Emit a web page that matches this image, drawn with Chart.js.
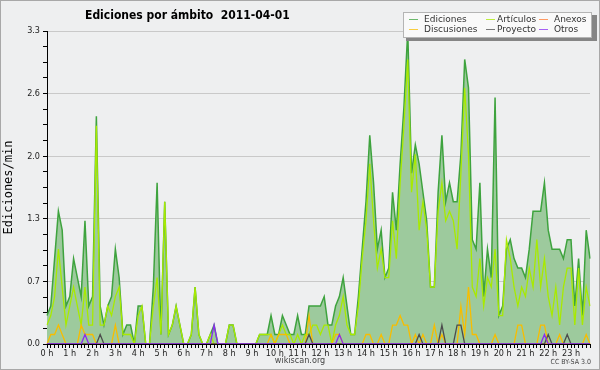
<!DOCTYPE html>
<html>
<head>
<meta charset="utf-8">
<script src="https://cdn.jsdelivr.net/npm/chart.js@4/dist/chart.umd.min.js"></script>
<style>
  html, body { margin: 0; padding: 0; background: #eeeff0; }
  canvas { display: block; }
</style>
</head>
<body>
<canvas id="chart" width="600" height="370"></canvas>
<script>
// hour labels on the x axis, one slot every 10 minutes
const hours = ['0 h', '1 h', '2 h', '3 h', '4 h', '5 h', '6 h', '7 h', '8 h', '9 h', '10 h', '11 h',
    '12 h', '13 h', '14 h', '15 h', '16 h', '17 h', '18 h', '19 h', '20 h', '21 h', '22 h', '23 h'];
const minutes = ['00', '10', '20', '30', '40', '50'];

const yTicks = [0, 0.66, 1.32, 1.98, 2.64, 3.3];

const ediciones = [
    0.3, 0.4, 0.9, 1.4, 1.2, 0.4, 0.5, 0.9, 0.7, 0.5, 1.3, 0.4,
    0.5, 2.4, 0.4, 0.2, 0.4, 0.5, 1.0, 0.7, 0.1, 0.2, 0.2, 0.0,
    0.4, 0.4, 0.0, 0.0, 0.6, 1.7, 0.1, 1.5, 0.1, 0.2, 0.4, 0.2,
    0.0, 0.0, 0.1, 0.6, 0.1, 0.0, 0.0, 0.1, 0.2, 0.0, 0.0, 0.0,
    0.2, 0.2, 0.0, 0.0, 0.0, 0.0, 0.0, 0.0, 0.1, 0.1, 0.1, 0.3,
    0.1, 0.1, 0.3, 0.2, 0.1, 0.1, 0.3, 0.1, 0.1, 0.4, 0.4, 0.4,
    0.4, 0.5, 0.2, 0.2, 0.4, 0.5, 0.7, 0.4, 0.1, 0.1, 0.5, 1.0,
    1.5, 2.2, 1.7, 1.0, 1.2, 0.7, 0.8, 1.6, 1.2, 1.9, 2.5, 3.3,
    1.8, 2.1, 1.9, 1.6, 1.3, 0.6, 0.6, 1.6, 2.2, 1.5, 1.7, 1.5,
    1.5, 2.0, 3.0, 2.7, 1.1, 1.0, 1.7, 0.5, 1.0, 0.7, 2.6, 0.3,
    0.4, 1.0, 1.1, 0.9, 0.8, 0.8, 0.7, 1.0, 1.4, 1.4, 1.4, 1.7,
    1.2, 1.0, 1.0, 1.0, 0.9, 1.1, 1.1, 0.4, 0.9, 0.3, 1.2, 0.9,
];

const articulos = [
    0.2, 0.3, 0.5, 1.0, 0.6, 0.2, 0.4, 0.6, 0.4, 0.2, 0.6, 0.2,
    0.2, 2.3, 0.2, 0.2, 0.4, 0.3, 0.5, 0.6, 0.1, 0.1, 0.1, 0.0,
    0.3, 0.4, 0.0, 0.0, 0.4, 0.7, 0.1, 1.5, 0.1, 0.2, 0.4, 0.2,
    0.0, 0.0, 0.1, 0.6, 0.1, 0.0, 0.0, 0.1, 0.0, 0.0, 0.0, 0.0,
    0.2, 0.2, 0.0, 0.0, 0.0, 0.0, 0.0, 0.0, 0.1, 0.1, 0.1, 0.1,
    0.0, 0.1, 0.2, 0.1, 0.1, 0.0, 0.1, 0.0, 0.1, 0.1, 0.2, 0.2,
    0.1, 0.2, 0.2, 0.0, 0.2, 0.3, 0.5, 0.2, 0.1, 0.1, 0.4, 0.9,
    1.3, 1.9, 1.3, 0.8, 1.0, 0.7, 0.7, 1.3, 0.9, 1.7, 2.3, 3.0,
    1.6, 2.0, 1.2, 1.5, 1.2, 0.6, 0.6, 1.4, 1.7, 1.3, 1.4, 1.3,
    1.0, 1.8, 2.7, 2.0, 0.6, 0.5, 0.9, 0.4, 0.7, 0.6, 1.0, 0.3,
    0.3, 1.1, 0.9, 0.6, 0.4, 0.6, 0.5, 0.8, 0.6, 1.1, 0.6, 0.9,
    0.5, 0.3, 0.6, 0.2, 0.6, 0.8, 0.8, 0.2, 0.8, 0.2, 0.6, 0.4,
];

const anexos = [
    0, 0, 0, 0, 0, 0, 0, 0, 0, 0, 0, 0,
    0, 0, 0, 0, 0, 0, 0, 0, 0, 0, 0, 0,
    0, 0, 0, 0, 0, 0, 0, 0, 0, 0, 0, 0,
    0, 0, 0, 0, 0, 0, 0, 0, 0, 0, 0, 0,
    0, 0, 0, 0, 0, 0, 0, 0, 0, 0, 0, 0,
    0, 0, 0, 0, 0, 0, 0, 0, 0, 0, 0, 0,
    0, 0, 0, 0, 0, 0, 0, 0, 0, 0, 0, 0,
    0, 0, 0, 0, 0, 0, 0, 0, 0, 0, 0, 0,
    0, 0, 0, 0, 0, 0, 0, 0, 0, 0, 0, 0,
    0, 0, 0, 0, 0, 0, 0, 0, 0, 0, 0, 0,
    0, 0, 0, 0, 0, 0, 0, 0, 0, 0, 0, 0,
    0, 0, 0, 0, 0, 0, 0, 0, 0, 0, 0, 0,
];

const discusiones = [
    0, 0.1, 0.1, 0.2, 0.1, 0, 0, 0, 0, 0.2, 0.1, 0.1,
    0.1, 0, 0, 0, 0, 0, 0.2, 0, 0, 0, 0, 0,
    0, 0, 0, 0, 0, 0, 0, 0, 0, 0, 0, 0,
    0, 0, 0, 0, 0, 0, 0, 0, 0, 0, 0, 0,
    0, 0, 0, 0, 0, 0, 0, 0, 0, 0, 0, 0.1,
    0, 0.1, 0.1, 0.1, 0, 0, 0, 0, 0, 0.3, 0, 0,
    0, 0, 0, 0, 0.1, 0.1, 0, 0, 0, 0, 0, 0,
    0.1, 0.1, 0, 0, 0.1, 0, 0, 0.2, 0.2, 0.3, 0.2, 0.2,
    0, 0.1, 0, 0.1, 0, 0, 0.2, 0, 0.1, 0, 0, 0,
    0, 0.4, 0.1, 0.6, 0.1, 0.1, 0, 0, 0, 0, 0.1, 0,
    0, 0, 0, 0, 0.2, 0.2, 0, 0, 0, 0, 0.2, 0.2,
    0, 0, 0, 0.1, 0, 0, 0, 0, 0, 0, 0.1, 0,
];

const proyecto = [
    0, 0, 0, 0, 0, 0, 0, 0, 0, 0, 0, 0,
    0, 0, 0.1, 0, 0, 0, 0, 0, 0, 0, 0, 0,
    0, 0, 0, 0, 0, 0, 0, 0, 0, 0, 0, 0,
    0, 0, 0, 0, 0, 0, 0, 0, 0, 0, 0, 0,
    0, 0, 0, 0, 0, 0, 0, 0, 0, 0, 0, 0,
    0, 0, 0, 0, 0, 0, 0, 0, 0, 0.1, 0, 0,
    0, 0, 0, 0, 0, 0, 0, 0, 0, 0, 0, 0,
    0, 0, 0, 0, 0, 0, 0, 0, 0, 0, 0, 0,
    0, 0, 0.1, 0, 0, 0, 0, 0, 0.2, 0, 0, 0,
    0.2, 0.2, 0, 0, 0, 0, 0, 0, 0, 0, 0, 0,
    0, 0, 0, 0, 0, 0, 0, 0, 0, 0, 0, 0,
    0.1, 0, 0, 0, 0, 0.1, 0, 0, 0, 0, 0, 0,
];

const otros = [
    0, 0, 0, 0, 0, 0, 0, 0, 0, 0, 0.1, 0,
    0, 0, 0, 0, 0, 0, 0, 0, 0, 0, 0, 0,
    0, 0, 0, 0, 0, 0, 0, 0, 0, 0, 0, 0,
    0, 0, 0, 0, 0, 0, 0, 0, 0.2, 0, 0, 0,
    0, 0, 0, 0, 0, 0, 0, 0, 0, 0, 0, 0,
    0, 0, 0, 0, 0, 0, 0, 0, 0, 0, 0, 0,
    0, 0, 0, 0, 0, 0.1, 0, 0, 0, 0, 0, 0,
    0, 0, 0, 0, 0, 0, 0, 0, 0, 0, 0, 0,
    0, 0, 0, 0, 0, 0, 0, 0, 0, 0, 0, 0,
    0, 0, 0, 0, 0, 0, 0, 0, 0, 0, 0, 0,
    0, 0, 0, 0, 0, 0, 0, 0, 0, 0, 0, 0.1,
    0, 0, 0, 0, 0, 0, 0, 0, 0, 0, 0, 0,
];

const names = ['Ediciones', 'Artículos', 'Anexos', 'Discusiones', 'Proyecto', 'Otros'];
const colours = ['#3ea33e', '#a8ea00', '#ff7a30', '#f7bd00', '#4c4c4c', '#8a2cf0'];

const condensed = '"DejaVu Sans Condensed", "DejaVu Sans", sans-serif';

// 144 ten-minute slots
const slots = [];
hours.forEach((h, i) => minutes.forEach(m => slots.push(i + ':' + m)));

function line(idx, data, extra) {
    return Object.assign({
        label: names[idx],
        data: data,
        borderColor: colours[idx],
        borderWidth: 1.3,
        pointRadius: 0,
        tension: 0,
        fill: false,
        order: 6 - idx,
    }, extra || {});
}

// title, legend box, footer and frame drawn straight on the canvas
const decor = {
    id: 'decor',
    beforeDraw(chart) {
        const ctx = chart.ctx;
        ctx.save();
        ctx.fillStyle = '#eeeff0';
        ctx.fillRect(0, 0, chart.width, chart.height);
        ctx.restore();
    },
    afterDraw(chart) {
        const ctx = chart.ctx;
        ctx.save();

        ctx.fillStyle = '#000';
        ctx.font = 'bold 12px ' + condensed;
        ctx.textBaseline = 'alphabetic';
        ctx.textAlign = 'left';
        ctx.fillText('Ediciones por ámbito  2011-04-01', 85, 18.5);

        // legend box with shadow
        ctx.fillStyle = '#858585';
        ctx.fillRect(406, 15, 191, 26);
        ctx.fillStyle = '#f9f9f9';
        ctx.fillRect(403, 12, 189, 26);
        ctx.strokeStyle = '#b4b4b4';
        ctx.lineWidth = 1;
        ctx.strokeRect(403.5, 12.5, 188, 25);

        const lineX = [409, 486, 539];
        const textX = [424, 497, 554];
        const rowY = [19.5, 29.5];
        ctx.font = '9px "DejaVu Sans", sans-serif';
        ctx.textBaseline = 'middle';
        names.forEach((n, k) => {
            const col = k % 3, row = Math.floor(k / 3);
            ctx.strokeStyle = colours[k];
            ctx.globalAlpha = 0.75;
            ctx.beginPath();
            ctx.moveTo(lineX[col], rowY[row]);
            ctx.lineTo(lineX[col] + 9, rowY[row]);
            ctx.stroke();
            ctx.globalAlpha = 1;
            ctx.fillStyle = '#333';
            ctx.fillText(n, textX[col], rowY[row] + 0.5);
        });

        ctx.fillStyle = '#444';
        ctx.font = '9px ' + condensed;
        ctx.textAlign = 'center';
        ctx.fillText('wikiscan.org', 300, 361);
        ctx.font = '7px ' + condensed;
        ctx.textAlign = 'right';
        ctx.fillText('CC BY-SA 3.0', 591, 362);

        ctx.strokeStyle = '#a8a8a8';
        ctx.strokeRect(0.5, 0.5, chart.width - 1, chart.height - 1);
        ctx.restore();
    },
};

new Chart(document.getElementById('chart'), {
    type: 'line',
    data: {
        labels: slots,
        datasets: [
            line(0, ediciones, { fill: 'origin', backgroundColor: '#9dca9d', borderWidth: 1.5 }),
            line(1, articulos),
            line(2, anexos),
            line(3, discusiones),
            line(4, proyecto),
            line(5, otros),
        ],
    },
    options: {
        responsive: false,
        animation: false,
        devicePixelRatio: 1,
        layout: { padding: { top: 31, right: 10, left: 0, bottom: 0 } },
        plugins: {
            legend: { display: false },
            tooltip: { enabled: false },
            filler: { drawTime: 'beforeDatasetsDraw' },
        },
        scales: {
            x: {
                type: 'category',
                offset: false,
                z: 1,
                border: { color: '#000', width: 1 },
                grid: { drawOnChartArea: false, color: '#000', tickLength: 4 },
                ticks: {
                    autoSkip: false,
                    maxRotation: 0,
                    minRotation: 0,
                    padding: 0,
                    color: '#222',
                    font: { family: condensed, size: 9 },
                    callback: (v, i) => i % minutes.length === 0 ? hours[i / minutes.length] : '',
                },
                afterFit: s => { s.height = 26; },
            },
            y: {
                min: 0,
                max: 3.3,
                border: { color: '#000', width: 1 },
                grid: {
                    color: c => (c.tick && c.tick.major) ? '#c9c9c9' : 'rgba(0,0,0,0)',
                    tickColor: '#000',
                    tickLength: 4,
                },
                afterBuildTicks: s => {
                    const t = [];
                    yTicks.forEach((v, k) => {
                        t.push({ value: v, major: true });
                        if (k < yTicks.length - 1) {
                            for (let j = 1; j < 4; j++) {
                                t.push({ value: v + (yTicks[k + 1] - v) * j / 4, major: false });
                            }
                        }
                    });
                    s.ticks = t;
                },
                ticks: {
                    autoSkip: false,
                    padding: 3,
                    color: '#222',
                    font: { family: condensed, size: 9 },
                    callback: (v, i, t) => t[i].major ? v.toFixed(1) : '',
                },
                title: {
                    display: true,
                    text: 'Ediciones/min',
                    color: '#000',
                    padding: { top: 2, bottom: 0 },
                    font: { family: '"DejaVu Sans Mono", monospace', size: 12 },
                },
                afterFit: s => { s.width = 47; },
            },
        },
    },
    plugins: [decor],
});
</script>
</body>
</html>
